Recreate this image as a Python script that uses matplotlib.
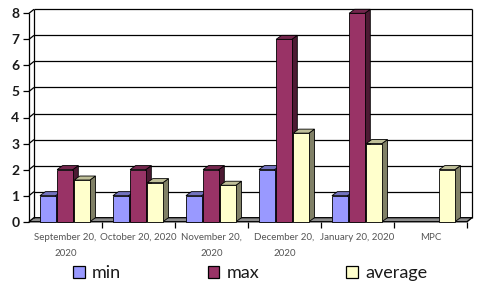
import numpy as np
import matplotlib
matplotlib.use("Agg")
import matplotlib.pyplot as plt
from matplotlib.patches import Patch

categories = ["September 20,\n2020", "October 20, 2020", "November 20,\n2020",
              "December 20,\n2020", "January 20, 2020", "MPC"]
min_vals = [1, 1, 1, 2, 1, np.nan]
max_vals = [2, 2, 2, 7, 8, np.nan]
avg_vals = [1.6, 1.5, 1.4, 3.4, 3.0, 2.0]
series_names = ["min", "max", "average"]
yticks = [0, 1, 2, 3, 4, 5, 6, 7, 8]

front = ["#9999FF", "#993366", "#FFFFCC"]
side = ["#4D4D80", "#4D1A33", "#808066"]
top = ["#7373BF", "#73264D", "#BFBF99"]

FONT = ["Lato", "DejaVu Sans"]
plt.rcParams["font.family"] = FONT

W, H = 480, 289
fig = plt.figure(figsize=(W / 100, H / 100), dpi=100)
x0, x1 = 29, 467
y0, y1 = 221.7, 13.3
ax = fig.add_axes([x0 / W, 1 - y0 / H, (x1 - x0) / W, (y0 - y1) / H])
n = len(categories)
ymax = yticks[-1]
ax.set_xlim(0, n)
ax.set_ylim(0, ymax)
for s in ax.spines.values():
    s.set_visible(False)

# depth offsets in data units
px_x = n / (x1 - x0)
px_y = ymax / (y0 - y1)
dx, dy = 5 * px_x, 4 * px_y

lk = dict(color="black", lw=0.9, clip_on=False, solid_capstyle="butt")
# floor
ax.fill([0, n, n + dx, dx], [0, 0, dy, dy], color="#8C8C8C", clip_on=False, zorder=0.5)
ax.plot([0, n, n + dx, dx, 0], [0, 0, dy, dy, 0], zorder=0.6, **lk)
# back wall gridlines
for v in yticks[1:]:
    ax.plot([dx, n + dx], [v + dy, v + dy], zorder=0.6, **lk)
    ax.plot([0, dx], [v, v + dy], zorder=0.6, **lk)
ax.plot([dx, dx], [dy, ymax + dy], zorder=0.6, **lk)
ax.plot([n + dx, n + dx], [dy, ymax + dy], zorder=0.6, **lk)
ax.plot([0, 0], [0, ymax], zorder=0.6, **lk)

# bars
start, pitch, bw = 0.15, 0.235, 0.215
bdx, bdy = 5.5 * px_x, 4 * px_y
z = 2
for ci in range(n):
    for si, vals in enumerate([min_vals, max_vals, avg_vals]):
        v = vals[ci]
        if np.isnan(v):
            continue
        xl = ci + start + si * pitch
        xr = xl + bw
        ax.bar(xl, v, width=bw, align="edge", color=front[si], edgecolor="black",
               linewidth=0.6, zorder=z + 0.2, clip_on=False)
        ax.fill([xr, xr + bdx, xr + bdx, xr], [0, bdy, v + bdy, v], facecolor=side[si],
                edgecolor="black", linewidth=0.6, zorder=z, clip_on=False)
        ax.fill([xl, xr, xr + bdx, xl + bdx], [v, v, v + bdy, v + bdy], facecolor=top[si],
                edgecolor="black", linewidth=0.6, zorder=z + 0.1, clip_on=False)
        z += 1

# axis ticks
ax.set_yticks(yticks)
ax.set_yticklabels([str(t) for t in yticks], fontsize=10, fontweight="bold", color="#1A1A1A")
ax.tick_params(axis="y", direction="out", length=4, width=0.9, pad=3)
ax.set_xticks(np.arange(1, n + 1))
ax.set_xticklabels([])
ax.tick_params(axis="x", which="major", direction="out", length=4, width=0.9)
ax.set_xticks(np.arange(n) + 0.5, minor=True)
ax.set_xticklabels(categories, minor=True, fontsize=7, color="#555555", linespacing=2.0,
                   va="top")
ax.tick_params(axis="x", which="minor", length=0, pad=8)

handles = [Patch(facecolor=c, edgecolor="black", linewidth=0.9) for c in front]
fig.legend(handles, series_names, loc="center", bbox_to_anchor=(250 / W, 1 - 273 / H),
           ncol=3, frameon=False, fontsize=13, handlelength=0.65, handleheight=0.65,
           handletextpad=0.4, columnspacing=4.8, labelcolor="#1A1A1A",
           borderpad=0, borderaxespad=0)

fig.savefig("out.png", dpi=100, facecolor="white")
